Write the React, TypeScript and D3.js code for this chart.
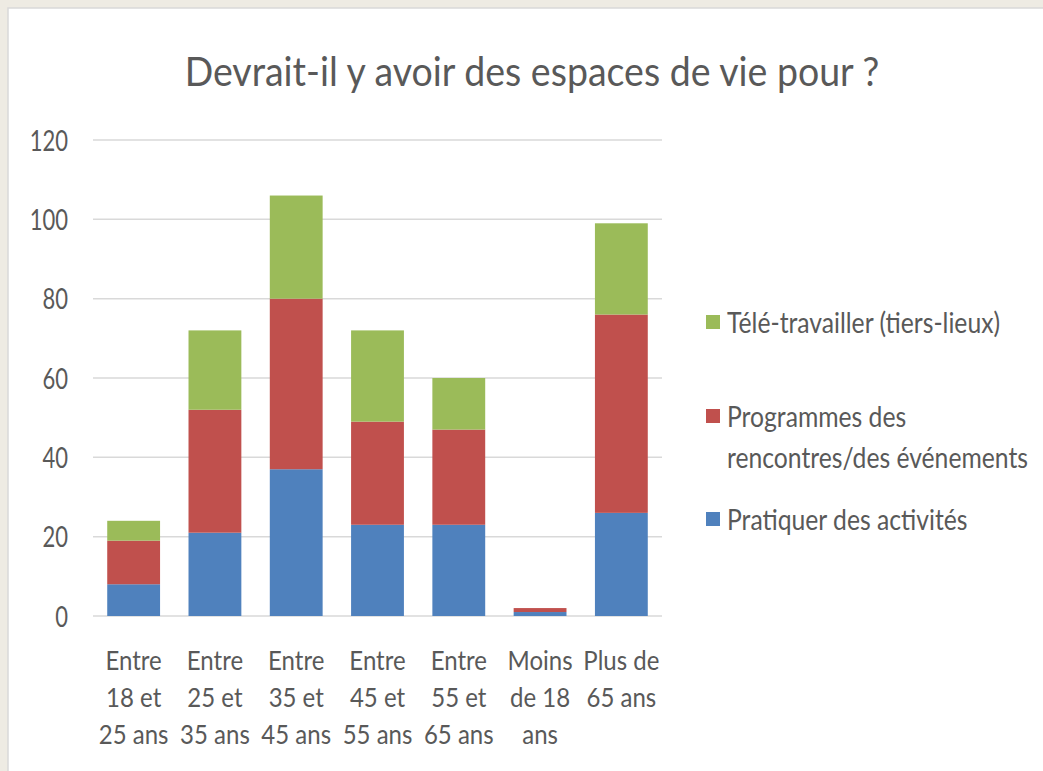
import React from "react";
import * as d3 from "d3";

const categories: string[][] = [
  ["Entre", "18 et", "25 ans"],
  ["Entre", "25 et", "35 ans"],
  ["Entre", "35 et", "45 ans"],
  ["Entre", "45 et", "55 ans"],
  ["Entre", "55 et", "65 ans"],
  ["Moins", "de 18", "ans"],
  ["Plus de", "65 ans"],
];
const pratiquer = [8, 21, 37, 23, 23, 1, 26];
const programmes = [11, 31, 43, 26, 24, 1, 50];
const teletravail = [5, 20, 26, 23, 13, 0, 23];
const yTicks = [0, 20, 40, 60, 80, 100, 120];
const seriesNames = ["Pratiquer des activités", "Programmes des rencontres/des événements", "Télé-travailler (tiers-lieux)"];
const colors = ["#4F81BD", "#C0504D", "#9BBB59"];

const W = 1043, H = 771;
const FONT = "Lato, 'Open Sans', sans-serif";
const TXT = "#595959";

function SText({ x, y, size, sy, anchor = "start", children }: any) {
  return (
    <text transform={`translate(${x},${y}) scale(1,${sy})`} textAnchor={anchor} fontSize={size} fill={TXT}>
      {children}
    </text>
  );
}

export default function App() {
  const x = d3.scaleBand<number>().domain(d3.range(categories.length)).range([93, 662]).paddingInner(0.35).paddingOuter(0.175);
  const y = d3.scaleLinear().domain([0, 120]).range([616, 140]);
  const rows = categories.map((_, i) => ({ i, p: pratiquer[i], r: programmes[i], t: teletravail[i] }));
  const stack = d3.stack<any>().keys(["p", "r", "t"])(rows);

  const legend = [
    { c: colors[2], lines: [seriesNames[2]], y: 322 },
    { c: colors[1], lines: ["Programmes des", "rencontres/des événements"], y: 416 },
    { c: colors[0], lines: [seriesNames[0]], y: 519 },
  ];

  return (
    <svg width={W} height={H} style={{ position: "absolute", left: 0, top: 0 }} fontFamily={FONT}>
      <rect x={0} y={0} width={W} height={H} fill="#EEEBE3" />
      <rect x={8} y={8} width={W} height={H} fill="#FFFFFF" stroke="#D9D9D9" strokeWidth={1.5} />
      <SText x={532} y={86} size={37.5} sy={1.1} anchor="middle">Devrait-il y avoir des espaces de vie pour ?</SText>
      {yTicks.map((t) => (
        <g key={t}>
          <line x1={93} x2={662} y1={y(t)} y2={y(t)} stroke="#D9D9D9" strokeWidth={1.5} />
          <SText x={68} y={y(t) + 10.5} size={22} sy={1.33} anchor="end">{t}</SText>
        </g>
      ))}
      {stack.map((s, si) => (
        <g key={si} fill={colors[si]}>
          {s.map((d: any, i: number) => (
            <rect key={i} x={x(i)} width={x.bandwidth()} y={y(d[1])} height={Math.max(0, y(d[0]) - y(d[1]))} />
          ))}
        </g>
      ))}
      {categories.map((lines, i) =>
        lines.map((l, k) => (
          <SText key={`${i}-${k}`} x={(x(i) as number) + x.bandwidth() / 2} y={670 + k * 37} size={24} sy={1.15} anchor="middle">
            {l}
          </SText>
        ))
      )}
      {legend.map((it, k) => (
        <g key={k}>
          <rect x={706} y={it.y - 7} width={14} height={14} fill={it.c} />
          {it.lines.map((l, j) => (
            <SText key={j} x={727} y={it.y + 10.5 + j * 41} size={24.7} sy={1.21}>{l}</SText>
          ))}
        </g>
      ))}
    </svg>
  );
}
